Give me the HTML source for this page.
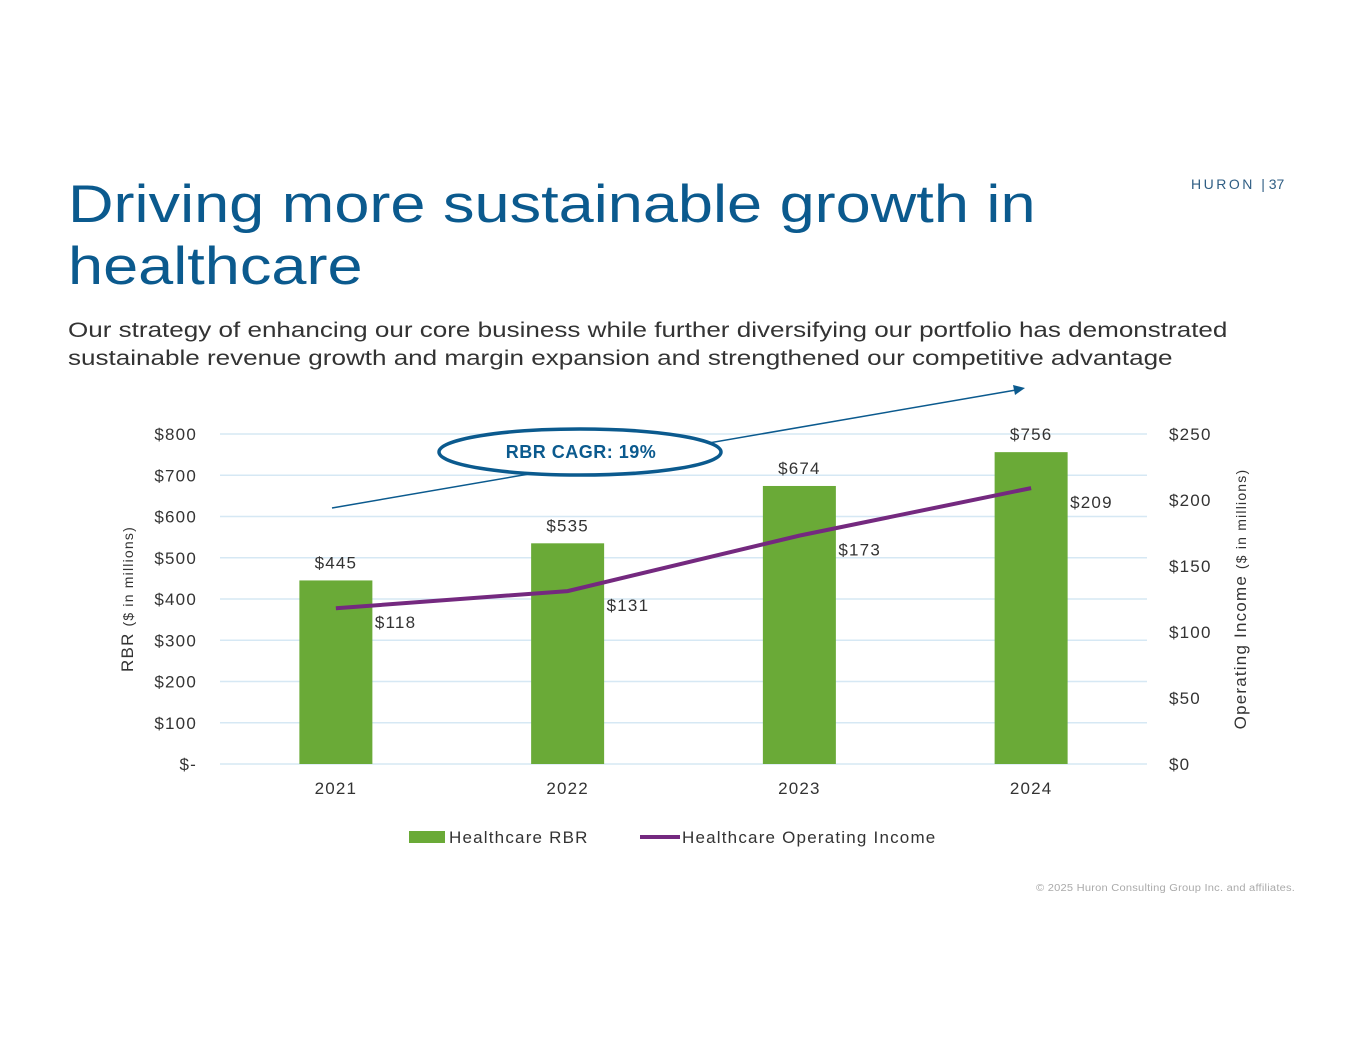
<!DOCTYPE html>
<html><head><meta charset="utf-8"><style>
body{margin:0;width:1365px;height:1055px;background:#fff;font-family:"Liberation Sans",sans-serif;position:relative;overflow:hidden}
.t{position:absolute;white-space:nowrap;transform-origin:0 0}
svg text{letter-spacing:1.2px}
</style></head><body>
<div class="t" style="left:1191px;top:176px;font-size:14px;letter-spacing:2.5px;color:#2f5e84">HURON <span style="letter-spacing:0">| 37</span></div>
<div class="t" style="left:68px;top:174px;font-size:53px;line-height:62px;color:#0b5a8e;transform:scaleX(1.19)">Driving more sustainable growth in<br>healthcare</div>
<div class="t" style="left:68px;top:317px;font-size:21px;line-height:28px;color:#333;transform:scaleX(1.24)">Our strategy of enhancing our core business while further diversifying our portfolio has demonstrated<br>sustainable revenue growth and margin expansion and strengthened our competitive advantage</div>
<div class="t" style="left:1036px;top:883px;font-size:10px;color:#aaa;letter-spacing:0.2px;transform:scaleX(1.11)">© 2025 Huron Consulting Group Inc. and affiliates.</div>
<svg id="chart" width="1365" height="1055" style="position:absolute;left:0;top:0" font-family="Liberation Sans, sans-serif"></svg>
<script>
const categories=["2021","2022","2023","2024"];
const rbrValues=[445,535,674,756];
const opIncomeValues=[118,131,173,209];
const leftTicks=[0,100,200,300,400,500,600,700,800];
const leftTickLabels=["$-","$100","$200","$300","$400","$500","$600","$700","$800"];
const rightTicks=[0,50,100,150,200,250];
const rightTickLabels=["$0","$50","$100","$150","$200","$250"];
const svg=document.getElementById('chart');
const NS='http://www.w3.org/2000/svg';
function mk(tag,attrs,text){const e=document.createElementNS(NS,tag);for(const k in attrs)e.setAttribute(k,attrs[k]);if(text!==undefined)e.textContent=text;svg.appendChild(e);return e;}
const X0=220,X1=1147,Y0=764,Y1=434;
const yL=v=>Y0-(v/800)*(Y0-Y1);
const yR=v=>Y0-(v/250)*(Y0-Y1);
const bw=(X1-X0)/categories.length;
const xC=i=>X0+bw*(i+0.5);
leftTicks.forEach((v,i)=>{
 const g=mk('line',{x1:X0,x2:X1,y1:yL(v),y2:yL(v),stroke:'#d6e8f4','stroke-width':1.5});
 
 const t=mk('text',{x:197,y:yL(v)+6,'text-anchor':'end','font-size':17,fill:'#333'},leftTickLabels[i]);
 
});
rightTicks.forEach((v,i)=>{
 const t=mk('text',{x:1169,y:yR(v)+6,'font-size':17,fill:'#333'},rightTickLabels[i]);
 
});
categories.forEach((c,i)=>{
 const b=mk('rect',{x:xC(i)-36.5,y:yL(rbrValues[i]),width:73,height:Y0-yL(rbrValues[i]),fill:'#6aaa37'});
 
 const l=mk('text',{x:xC(i),y:yL(rbrValues[i])-12,'text-anchor':'middle','font-size':17,fill:'#333'},'$'+rbrValues[i]);
 
 const xl=mk('text',{x:xC(i),y:794,'text-anchor':'middle','font-size':17,fill:'#333'},c);
 
});
const pts=opIncomeValues.map((v,i)=>xC(i)+','+yR(v)).join(' ');
const pl=mk('polyline',{points:pts,fill:'none',stroke:'#74297f','stroke-width':4});

opIncomeValues.forEach((v,i)=>{
 const t=mk('text',{x:xC(i)+39,y:yR(v)+20,'font-size':17,fill:'#333'},'$'+v);
 
});
const a=mk('line',{x1:332,y1:508,x2:1016,y2:390,stroke:'#0b5a8e','stroke-width':1.5});

const ah=mk('polygon',{points:'1025,388 1013,385 1015,395',fill:'#0b5a8e'});

const el=mk('ellipse',{cx:580,cy:452,rx:141,ry:23,fill:'#fff',stroke:'#0b5a8e','stroke-width':3.5});

const ct=mk('text',{x:581,y:458,'text-anchor':'middle','font-size':18,'font-weight':'bold',fill:'#0b5a8e',style:'letter-spacing:0.5px'},'RBR CAGR: 19%');

const yt=mk('text',{transform:'translate(133,599) rotate(-90)','text-anchor':'middle','font-size':17,fill:'#333'});

yt.innerHTML='RBR <tspan font-size="14">($ in millions)</tspan>';
const yt2=mk('text',{transform:'translate(1246,599) rotate(-90)','text-anchor':'middle','font-size':17,fill:'#333'});

yt2.innerHTML='Operating Income <tspan font-size="14">($ in millions)</tspan>';
const lr=mk('rect',{x:409,y:831,width:36,height:12,fill:'#6aaa37'});

const lt=mk('text',{x:449,y:843,'font-size':17,fill:'#333'},'Healthcare RBR');

const ll=mk('line',{x1:640,x2:680,y1:837,y2:837,stroke:'#74297f','stroke-width':4});

const lt2=mk('text',{x:682,y:843,'font-size':17,fill:'#333'},'Healthcare Operating Income');

</script>
</body></html>
